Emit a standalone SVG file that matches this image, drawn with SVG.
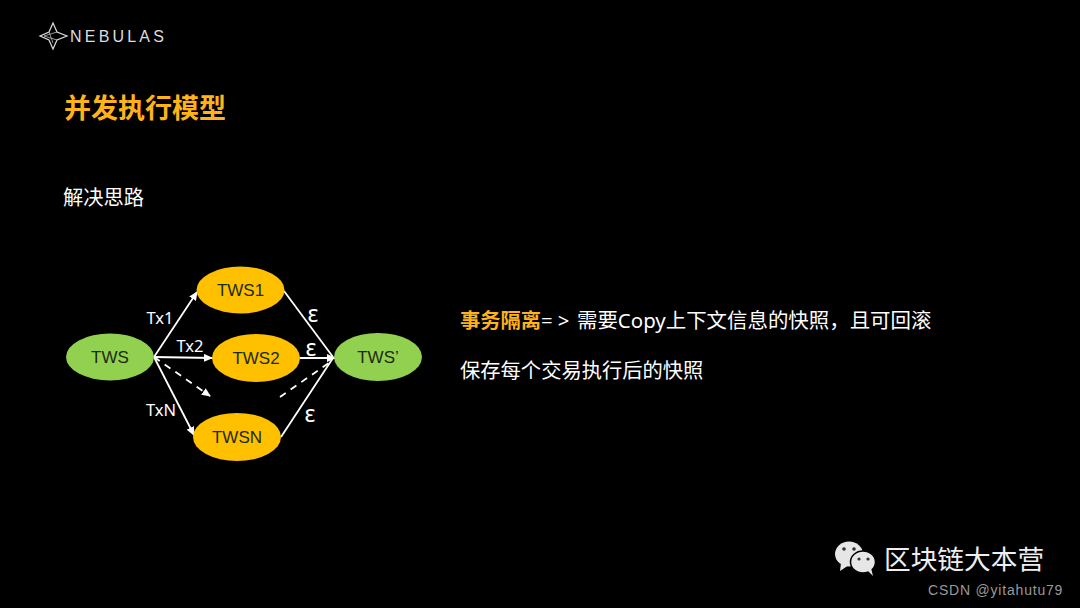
<svg xmlns="http://www.w3.org/2000/svg" width="1080" height="608" viewBox="0 0 1080 608">
<style>
.n{font-family:"Liberation Sans","Noto Sans",sans-serif;font-size:17px;text-anchor:middle;fill:#1c2a10}
.l{font-family:"Noto Sans",sans-serif;font-size:16.500px;fill:#fff;text-anchor:middle}
.v{font-family:"Noto Sans",sans-serif;font-size:23px;fill:#fff;text-anchor:middle}
.c{font-family:"Noto Sans","Noto Sans CJK SC",sans-serif;font-size:20.300px;fill:#fff}
.e{stroke:#fff;stroke-width:1.8;fill:none}
.a{marker-end:url(#h)}
.d{stroke-dasharray:7 6}
.g{fill:#92d050}.o{fill:#ffc000}
</style>
<defs><marker id="h" markerUnits="userSpaceOnUse" markerWidth="10" markerHeight="8" refX="8" refY="4" orient="auto"><path d="M0 0L9 4L0 8Z" fill="#fff"/></marker></defs>
<rect width="1080" height="608" fill="#000"/>
<g id="logo">
<path d="M53 23L57 32L67 36L57 40L53 49L49 40L40 36L49 32Z" fill="none" stroke="#ddd" stroke-width="1.2"/>
<path d="M57 32L44 36L57 40M49 32L53 43" fill="none" stroke="#bbb" stroke-width="0.8"/>
<text x="70" y="42" font-family="'Liberation Sans',sans-serif" font-size="16" letter-spacing="3.200" fill="#ddd">NEBULAS</text>
</g>
<text x="64" y="118" font-family="'Noto Sans CJK SC',sans-serif" font-size="27" font-weight="700" fill="#ffb31a">并发执行模型</text>
<text x="63" y="205" class="c">解决思路</text>
<g id="connectors">
<path class="e a" d="M154 357L197 292"/>
<path class="e a" d="M154 357L212 358"/>
<path class="e a d" d="M154 357L210 396"/>
<path class="e a" d="M154 357L194 435"/>
<path class="e" d="M284 291L333 357"/>
<path class="e a" d="M300 358L335 358"/>
<path class="e d" d="M280 397L333 360"/>
<path class="e" d="M281 437L333 358"/>
</g>
<g id="n-tws"><ellipse class="g" cx="110" cy="357" rx="44" ry="23.5"/><text class="n" x="110" y="363">TWS</text></g>
<g id="n-tws1"><ellipse class="o" cx="240.500" cy="290" rx="44" ry="23.500"/><text class="n" x="240.500" y="296">TWS1</text></g>
<g id="n-tws2"><ellipse class="o" cx="256" cy="358" rx="44" ry="24"/><text class="n" x="256" y="364">TWS2</text></g>
<g id="n-twsn"><ellipse class="o" cx="237" cy="437" rx="44" ry="24"/><text class="n" x="237" y="443">TWSN</text></g>
<g id="n-twsp"><ellipse class="g" cx="378" cy="357" rx="44" ry="24"/><text class="n" x="378" y="363">TWS’</text></g>
<text class="l" x="160" y="324">Tx1</text>
<text class="l" x="190" y="352">Tx2</text>
<text class="l" x="161" y="416">TxN</text>
<text class="v" x="313" y="322">ε</text>
<text class="v" x="311" y="356">ε</text>
<text class="v" x="310" y="422">ε</text>
<text x="460" y="328" class="c"><tspan font-weight="700" fill="#ffb31a">事务隔离</tspan></text>
<text x="541" y="328" class="c">= &gt;</text>
<text x="577" y="328" class="c" font-size="20.400" style="font-size:20.450px">需要Copy上下文信息的快照，且可回滚</text>
<text x="460" y="378" class="c">保存每个交易执行后的快照</text>
<g id="wm">
<ellipse cx="849" cy="554" rx="14" ry="12.500" fill="#e6e6e6"/>
<path d="M841 563L840 571L849 565Z" fill="#e6e6e6"/>
<ellipse cx="863" cy="562" rx="12.500" ry="11" fill="#e6e6e6" stroke="#000" stroke-width="1.500"/>
<path d="M868 571L873 576L871 568Z" fill="#e6e6e6"/>
<circle cx="844" cy="549" r="1.800" fill="#333"/><circle cx="854" cy="549" r="1.800" fill="#333"/>
<circle cx="859" cy="559" r="1.600" fill="#333"/><circle cx="868" cy="559" r="1.600" fill="#333"/>
<text x="884" y="569" font-family="'Noto Sans CJK SC',sans-serif" font-size="26.700" fill="#eee">区块链大本营</text>
<text x="928" y="595" font-family="'Liberation Sans',sans-serif" font-size="14" letter-spacing="0.800" fill="#999">CSDN @yitahutu79</text>
</g>
</svg>
